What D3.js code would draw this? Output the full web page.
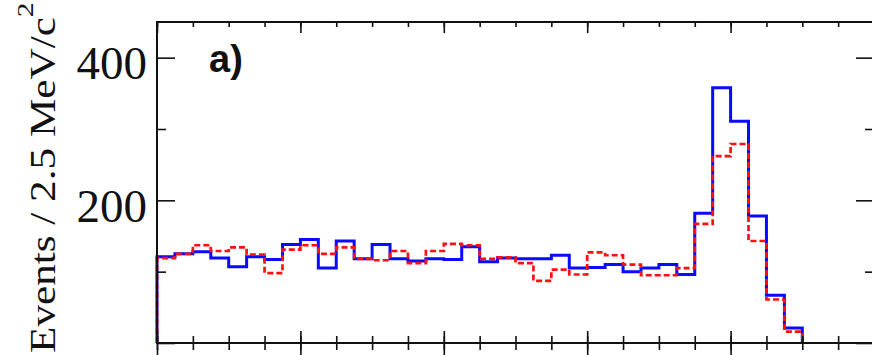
<!DOCTYPE html>
<html>
<head>
<meta charset="utf-8">
<script src="https://cdn.jsdelivr.net/npm/d3@7"></script>
<style>
  html, body { margin: 0; padding: 0; background: #fff; }
  svg { display: block; }
</style>
</head>
<body>
<svg id="chart" width="872" height="355"></svg>
<script>
// ---- data ----
const binWidth = 2.5;            // MeV per bin
const xDomain = [0, 100];        // 40 bins
const yDomain = [0, 450];
const blueCounts = [121,125,128,119,107,121,117,138,145,105,143,118,138,118,115,118,117,135,114,119,118,118,123,105,106,110,100,105,110,96,182,358,311,178,67,21];
const redCounts  = [119,125,137,129,134,124,98,131,137,125,134,118,116,129,112,129,139,137,118,120,112,87,103,96,127,123,110,95,95,105,167,262,279,143,61,16];
const yLabelTicks = [200, 400];
const yMajorTicks = [0, 200, 400];
const yMinorTicks = [100, 300];
const xMajorTicks = [0, 20, 40, 60, 80, 100];
const xMinorTicks = d3.range(0, 101, 5);
const panelLabel = "a)";
const yTitle = "Events / 2.5 MeV/c";

// ---- layout ----
const L = 157, R = 874, T = 22, B = 343;
const svg = d3.select("#chart");
const x = d3.scaleLinear().domain(xDomain).range([L, R]);
const y = d3.scaleLinear().domain(yDomain).range([B, T]);

function stepPoints(counts) {
  const pts = [[0, 0]];
  counts.forEach((c, i) => {
    pts.push([i * binWidth, c]);
    pts.push([(i + 1) * binWidth, c]);
  });
  pts.push([counts.length * binWidth, 0]);
  return pts;
}
const line = d3.line().x(d => x(d[0])).y(d => y(d[1]));

// histograms
svg.append("path").attr("d", line(stepPoints(blueCounts)))
  .attr("fill", "none").attr("stroke", "#0a0aff").attr("stroke-width", 3)
  .attr("stroke-linejoin", "miter");
svg.append("path").attr("d", line(stepPoints(redCounts)))
  .attr("fill", "none").attr("stroke", "#ff1010").attr("stroke-width", 2.7)
  .attr("stroke-dasharray", "6,3");

// axes ticks
function styleAxis(g) {
  g.select(".domain").remove();
  g.selectAll(".tick line").attr("stroke", "#111").attr("stroke-width", 1.6);
  g.selectAll(".tick text").remove();
}
// left
svg.append("g").attr("transform", `translate(${L},0)`)
  .call(d3.axisRight(y).tickValues(yMajorTicks).tickSize(18)).call(styleAxis);
svg.append("g").attr("transform", `translate(${L},0)`)
  .call(d3.axisRight(y).tickValues(yMinorTicks).tickSize(9)).call(styleAxis);
// right
svg.append("g").attr("transform", `translate(${R},0)`)
  .call(d3.axisLeft(y).tickValues(yMajorTicks).tickSize(18)).call(styleAxis);
svg.append("g").attr("transform", `translate(${R},0)`)
  .call(d3.axisLeft(y).tickValues(yMinorTicks).tickSize(9)).call(styleAxis);
// top
svg.append("g").attr("transform", `translate(0,${T})`)
  .call(d3.axisBottom(x).tickValues(xMajorTicks).tickSize(11)).call(styleAxis);
svg.append("g").attr("transform", `translate(0,${T})`)
  .call(d3.axisBottom(x).tickValues(xMinorTicks).tickSize(5)).call(styleAxis);
// bottom (upwards into this panel and downwards into the next)
svg.append("g").attr("transform", `translate(0,${B})`)
  .call(d3.axisTop(x).tickValues(xMajorTicks).tickSize(12)).call(styleAxis);
svg.append("g").attr("transform", `translate(0,${B})`)
  .call(d3.axisTop(x).tickValues(xMinorTicks).tickSize(7)).call(styleAxis);
svg.append("g").attr("transform", `translate(0,${B})`)
  .call(d3.axisBottom(x).tickValues(xMajorTicks).tickSize(14)).call(styleAxis);
svg.append("g").attr("transform", `translate(0,${B})`)
  .call(d3.axisBottom(x).tickValues(xMinorTicks).tickSize(7)).call(styleAxis);

// tick labels
const lab = svg.append("g").attr("transform", `translate(${L},0)`)
  .call(d3.axisLeft(y).tickValues(yLabelTicks).tickSize(0).tickPadding(10));
lab.select(".domain").remove();
lab.selectAll(".tick text")
  .attr("font-family", "'Liberation Serif', 'DejaVu Serif', serif")
  .attr("font-size", 47).attr("fill", "#111").attr("dy", "0.45em");

// frame
svg.append("rect").attr("x", L).attr("y", T).attr("width", R - L).attr("height", B - T)
  .attr("fill", "none").attr("stroke", "#111").attr("stroke-width", 2);

// panel label
svg.append("text").attr("x", 209).attr("y", 72)
  .attr("font-family", "'Liberation Sans', Arial, sans-serif").attr("font-weight", "bold")
  .attr("font-size", 38).attr("fill", "#111").text(panelLabel);

// y title
const tt = svg.append("text")
  .attr("font-family", "'Liberation Serif', 'DejaVu Serif', serif")
  .attr("font-size", 35).attr("fill", "#111");
const main = tt.append("tspan").text(yTitle);
tt.append("tspan").attr("font-size", 24).attr("dy", -22).text("2");
const len = main.node().getComputedTextLength();
const sx = 336 / len;
tt.attr("transform", `translate(55,353) rotate(-90) scale(${sx},1)`);
</script>
</body>
</html>
